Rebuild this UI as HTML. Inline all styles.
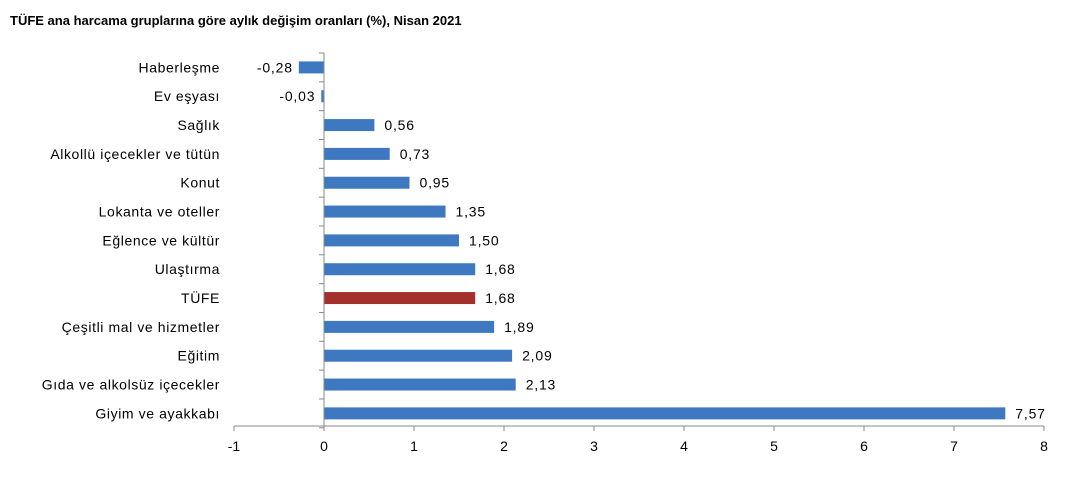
<!DOCTYPE html>
<html><head><meta charset="utf-8"><style>
body{margin:0;background:#fff;}
svg text{font-family:"Liberation Sans",Arial,sans-serif;}
</style></head><body>
<svg width="1070" height="483" xmlns="http://www.w3.org/2000/svg">
<text x="10" y="25" font-size="13" font-weight="bold" fill="#000">TÜFE ana harcama gruplarına göre aylık değişim oranları (%), Nisan 2021</text>
<g id="plot"></g>
</svg>
<script>
const categories=["Haberleşme","Ev eşyası","Sağlık","Alkollü içecekler ve tütün","Konut","Lokanta ve oteller","Eğlence ve kültür","Ulaştırma","TÜFE","Çeşitli mal ve hizmetler","Eğitim","Gıda ve alkolsüz içecekler","Giyim ve ayakkabı"];
const values=[-0.28,-0.03,0.56,0.73,0.95,1.35,1.50,1.68,1.68,1.89,2.09,2.13,7.57];
const valueLabels=["-0,28","-0,03","0,56","0,73","0,95","1,35","1,50","1,68","1,68","1,89","2,09","2,13","7,57"];
const ticks=[-1,0,1,2,3,4,5,6,7,8];
const NS="http://www.w3.org/2000/svg";
const g=document.getElementById('plot');
const xs=v=>324+(v)*90;
const top0=53,step=28.83;
const yc=i=>top0+step*(i+0.5);
function mk(t,a){const e=document.createElementNS(NS,t);for(const k in a)e.setAttribute(k,a[k]);g.appendChild(e);return e;}
categories.forEach((c,i)=>{
 const v=values[i];
 const b=mk('rect',{x:Math.min(xs(0),xs(v)),y:yc(i)-6,width:Math.abs(xs(v)-xs(0)),height:12,fill:c==="TÜFE"?"#a3302a":"#3d78c0"});
 
 
 const lt=mk('text',{x:v<0?xs(v)-6:xs(v)+10,y:yc(i)+5,'font-size':14,'letter-spacing':0.8,'text-anchor':v<0?'end':'start',fill:'#000'});
 lt.textContent=valueLabels[i];
 
 
 const ct=mk('text',{x:220,y:yc(i)+5,'font-size':14,'letter-spacing':0.6,'text-anchor':'end',fill:'#000'});
 ct.textContent=c;
 
 
});
const ya=mk('line',{x1:xs(0),x2:xs(0),y1:top0,y2:426,stroke:'#888','stroke-width':1});


for(let i=0;i<=categories.length;i++){const t=mk('line',{x1:xs(0)-5,x2:xs(0),y1:top0+step*i,y2:top0+step*i,stroke:'#888'});}
const xa=mk('line',{x1:xs(-1),x2:xs(8),y1:426,y2:426,stroke:'#888','stroke-width':1});


ticks.forEach(t=>{
 const l=mk('line',{x1:xs(t),x2:xs(t),y1:426,y2:431,stroke:'#888'});
 
 
 const tx=mk('text',{x:xs(t),y:451,'font-size':14,'text-anchor':'middle',fill:'#000'});
 tx.textContent=t;
 
 
});
</script>
</body></html>
